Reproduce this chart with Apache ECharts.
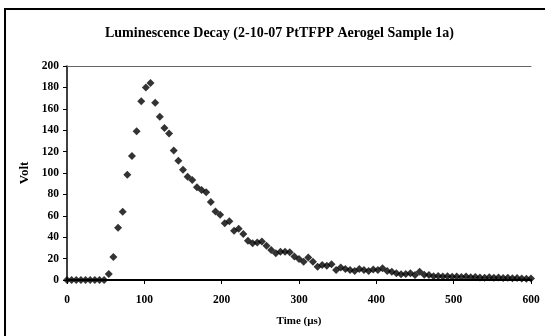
<!DOCTYPE html>
<html>
<head>
<meta charset="utf-8">
<script src="https://cdn.jsdelivr.net/npm/echarts@6/dist/echarts.min.js"></script>
<style>
  html, body { margin: 0; padding: 0; background: #fff; }
  #chart { width: 545px; height: 336px; }
</style>
</head>
<body>
<div id="chart"></div>
<script>
// time in microseconds
var times = [
  0, 6, 12, 18, 24, 30, 36, 42, 48, 54,
  60, 66, 72, 78, 84, 90, 96, 102, 108, 114,
  120, 126, 132, 138, 144, 150, 156, 162, 168, 174,
  180, 186, 192, 198, 204, 210, 216, 222, 228, 234,
  240, 246, 252, 258, 264, 270, 276, 282, 288, 294,
  300, 306, 312, 318, 324, 330, 336, 342, 348, 354,
  360, 366, 372, 378, 384, 390, 396, 402, 408, 414,
  420, 426, 432, 438, 444, 450, 456, 462, 468, 474,
  480, 486, 492, 498, 504, 510, 516, 522, 528, 534,
  540, 546, 552, 558, 564, 570, 576, 582, 588, 594,
  600
];
// measured volts
var volts = [
  0, 0, 0, 0, 0, 0, 0, 0, 0, 5.6,
  21.6, 48.8, 63.8, 98.4, 116, 139, 167, 180, 184, 165.6,
  152.5, 142, 137, 121, 111.5, 103, 96.5, 93.4, 86.6, 84,
  82, 73, 64, 61, 53, 55, 46, 48, 43, 36.6,
  34.4, 35, 36, 32, 28, 25, 26.5, 26.5, 26, 22,
  19.7, 17, 21, 17, 12.5, 14, 13.4, 14.7, 9.4, 11.6,
  10.3, 9.4, 8.4, 10.3, 9.4, 8.4, 9.8, 9.4, 11, 8.5,
  7.8, 6.3, 5.3, 5.5, 6.3, 4.7, 7.8, 5, 4.7, 3.5,
  3.8, 3.2, 3.5, 3, 3.3, 2.8, 3.2, 2.5, 2.8, 2.4,
  2.2, 2.6, 2, 2.3, 1.8, 2, 1.6, 1.8, 1.4, 1.2,
  1.3
];
var xTicks = [0, 100, 200, 300, 400, 500, 600];
var yTicks = [0, 20, 40, 60, 80, 100, 120, 140, 160, 180, 200];

var pts = [];
for (var i = 0; i < times.length; i++) {
  pts.push([times[i], volts[i]]);
}

var serif = "'Liberation Serif', 'DejaVu Serif', serif";
var lblStyle = { color: "#000", fontFamily: serif, fontWeight: "bold", fontSize: 11.5 };

var myChart = echarts.init(document.getElementById("chart"));
var option = {
  animation: false,
  backgroundColor: "#fff",
  title: {
    text: "Luminescence Decay (2-10-07 PtTFPP Aerogel Sample 1a)",
    left: 100,
    top: 21,
    textStyle: { color: "#000", fontFamily: serif, fontWeight: "bold", fontSize: 14 }
  },
  graphic: [
    {
      type: "rect",
      shape: { x: 5, y: 9, width: 560, height: 360 },
      style: { fill: null, stroke: "#000", lineWidth: 2 }
    }
  ],
  grid: { left: 67, right: 14, top: 66, bottom: 56 },
  xAxis: [
    {
      type: "value",
      min: xTicks[0],
      max: xTicks[xTicks.length - 1],
      interval: 100,
      name: "Time (µs)",
      nameLocation: "middle",
      nameGap: 36,
      nameTextStyle: { color: "#000", fontFamily: serif, fontWeight: "bold", fontSize: 11 },
      axisLine: { lineStyle: { color: "#000", width: 2 } },
      axisTick: { show: true, inside: false, length: 4, lineStyle: { color: "#000" } },
      axisLabel: Object.assign({ margin: 14 }, lblStyle),
      splitLine: { show: false }
    },
    {
      type: "value",
      position: "top",
      min: 0,
      max: 600,
      axisLine: { show: true, lineStyle: { color: "#666", width: 1 } },
      axisTick: { show: false },
      axisLabel: { show: false },
      splitLine: { show: false }
    }
  ],
  yAxis: {
    type: "value",
    min: yTicks[0],
    max: yTicks[yTicks.length - 1],
    interval: 20,
    name: "Volt",
    nameLocation: "middle",
    nameGap: 36,
    nameTextStyle: { color: "#000", fontFamily: serif, fontWeight: "bold", fontSize: 13 },
    axisLine: { show: true, lineStyle: { color: "#000", width: 1.5 } },
    axisTick: { show: true, inside: false, length: 4, lineStyle: { color: "#000" } },
    axisLabel: Object.assign({ margin: 8 }, lblStyle),
    splitLine: { show: false }
  },
  series: [
    {
      name: "Volt",
      type: "scatter",
      symbol: "diamond",
      symbolSize: 8,
      itemStyle: { color: "#000" },
      data: pts
    }
  ]
};
myChart.setOption(option);
</script>
</body>
</html>
